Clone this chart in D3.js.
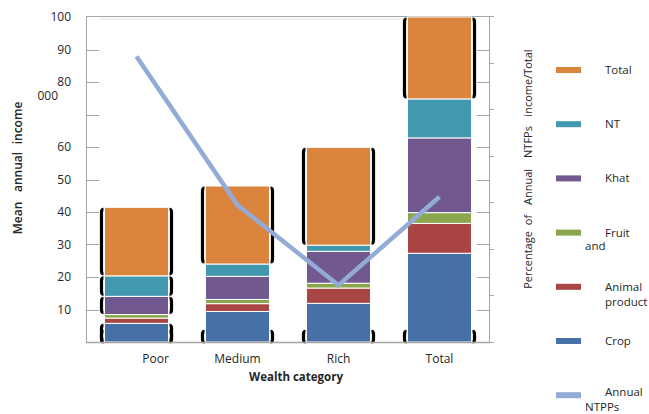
<!DOCTYPE html>
<html>
<head>
<meta charset="utf-8">
<script src="https://d3js.org/d3.v7.min.js"></script>
<style>
  body { margin: 0; background: #fff; }
  text { font-family: "Open Sans", sans-serif; fill: #262626; }
</style>
</head>
<body>
<script>
var width = 649,
    height = 414;

// data
var categories = ["Poor", "Medium", "Rich", "Total"];
var series = ["Crop", "Animal product", "Fruit", "Khat", "NT", "Total"];
var crop   = [5.75, 9.4, 11.9, 27.3];
var animal = [1.6, 2.4, 4.7, 9.2];
var fruit  = [1.1, 1.3, 1.5, 3.3];
var khat   = [5.6, 7.1, 9.8, 23.0];
var nt     = [6.3, 3.8, 1.9, 12.0];
var total  = [21.1, 24.0, 30.1, 25.2];
var ntfpShare = [61.3, 29.4, 12.2, 31.2];   // right axis, %
var leftTicks = [10, 20, 30, 40, 50, 60, 70, 80, 90, 100];
var leftLabels = ["10", "20", "30", "40", "50", "60", "", "80", "90", "100"];
var rightTicks = [0, 10, 20, 30, 40, 50, 60, 70];
// which stack pieces carry the black bracket marks
var bracketed = [["Total", "NT", "Khat", "Crop"], ["Total"], ["Total"], ["Total"]];

var colors = {
    "Crop": "#4571a7",
    "Animal product": "#a94543",
    "Fruit": "#8aa74e",
    "Khat": "#71588f",
    "NT": "#4198af",
    "Total": "#db843d"
};
var lineColor = "#93abd7";

var rows = categories.map(function (c, i) {
    return { cat: c, "Crop": crop[i], "Animal product": animal[i], "Fruit": fruit[i],
             "Khat": khat[i], "NT": nt[i], "Total": total[i], share: ntfpShare[i] };
});

var svg = d3.select("body").append("svg")
    .attr("width", width)
    .attr("height", height);

var x = d3.scaleBand().domain(categories).range([86, 490]).paddingInner(0.366).paddingOuter(0.183);
var y = d3.scaleLinear().domain([0, 100]).range([342, 17]);
var yR = d3.scaleLinear().domain([0, 70]).range([342, 16]);

var stack = d3.stack().keys(series)(rows);

// frame
svg.append("line").attr("x1", 86).attr("x2", 489).attr("y1", 16.5).attr("y2", 16.5)
    .attr("stroke", "#a6a6a6");
svg.append("line").attr("x1", 99).attr("x2", 477).attr("y1", 19).attr("y2", 19)
    .attr("stroke", "#ececec").attr("stroke-width", 1.5);
svg.append("line").attr("x1", 86.5).attr("x2", 86.5).attr("y1", 16).attr("y2", 342)
    .attr("stroke", "#a6a6a6");
svg.append("line").attr("x1", 489.5).attr("x2", 489.5).attr("y1", 16).attr("y2", 342)
    .attr("stroke", "#a6a6a6");

// left axis ticks (inside)
svg.selectAll(".ltick").data(leftTicks.slice(0, 9)).enter().append("line")
    .attr("x1", 86).attr("x2", 99)
    .attr("y1", function (d) { return Math.round(y(d)) + 0.5; })
    .attr("y2", function (d) { return Math.round(y(d)) + 0.5; })
    .attr("stroke", "#a6a6a6");
svg.selectAll(".rtickIn").data(leftTicks.slice(0, 9)).enter().append("line")
    .attr("x1", 477).attr("x2", 489)
    .attr("y1", function (d) { return Math.round(y(d)) + 0.5; })
    .attr("y2", function (d) { return Math.round(y(d)) + 0.5; })
    .attr("stroke", "#a6a6a6");
svg.selectAll(".rtickOut").data(rightTicks).enter().append("line")
    .attr("x1", 489).attr("x2", 494)
    .attr("y1", function (d) { return Math.round(yR(d)) + 0.5; })
    .attr("y2", function (d) { return Math.round(yR(d)) + 0.5; })
    .attr("stroke", "#a6a6a6");

svg.selectAll(".llab").data(leftTicks).enter().append("text")
    .attr("x", 71).attr("y", function (d) { return y(d); })
    .attr("dy", "0.35em").attr("text-anchor", "end")
    .style("font-size", "12px")
    .text(function (d, i) { return leftLabels[i]; });
svg.append("text").attr("x", 58).attr("y", 96).attr("dy", "0.35em")
    .attr("text-anchor", "end").style("font-size", "12px").text("000");

// bars
svg.append("g").selectAll("g").data(stack).enter().append("g")
    .attr("fill", function (d) { return colors[d.key]; })
    .selectAll("rect").data(function (d) { return d; }).enter().append("rect")
    .attr("x", function (d) { return x(d.data.cat); })
    .attr("width", x.bandwidth())
    .attr("y", function (d) { return y(d[1]); })
    .attr("height", function (d) { return y(d[0]) - y(d[1]); })
    .attr("stroke", "#fff").attr("stroke-width", 1);

// bracket marks beside the bars
var brackets = [];
categories.forEach(function (c, i) {
    bracketed[i].forEach(function (k) {
        var s = stack[series.indexOf(k)][i];
        brackets.push({ cat: c, y0: y(s[0]) - 2, y1: y(s[1]) + 2 });
    });
    brackets.push({ cat: c, y0: y(0), y1: y(3.3) });
});
function bracketPath(d, side) {
    var bx = side < 0 ? x(d.cat) - 3 : x(d.cat) + x.bandwidth() + 3;
    var h = side < 0 ? 2 : -2;
    return "M" + (bx + h) + "," + d.y1 + " Q" + bx + "," + d.y1 + " " + bx + "," + (d.y1 + 3) +
        " L" + bx + "," + (d.y0 - 3) + " Q" + bx + "," + d.y0 + " " + (bx + h) + "," + d.y0;
}
[-1, 1].forEach(function (side) {
    svg.append("g").selectAll("path").data(brackets).enter().append("path")
        .attr("d", function (d) { return bracketPath(d, side); })
        .attr("fill", "none").attr("stroke", "#000").attr("stroke-width", 3.2);
});

svg.append("line").attr("x1", 86).attr("x2", 490).attr("y1", 342.5).attr("y2", 342.5)
    .attr("stroke", "#a6a6a6").attr("stroke-width", 1.5);

// line on right axis
var line = d3.line()
    .x(function (d) { return x(d.cat) + x.bandwidth() / 2; })
    .y(function (d) { return yR(d.share); });
svg.append("path").datum(rows).attr("d", line)
    .attr("fill", "none").attr("stroke", lineColor).attr("stroke-width", 4.5);

// x labels
svg.selectAll(".xlab").data(categories).enter().append("text")
    .attr("x", function (d, i) { return x(d) + x.bandwidth() / 2 + (i === 0 ? 19 : 0); })
    .attr("y", 359).attr("dy", "0.35em").attr("text-anchor", "middle")
    .style("font-size", "12px").text(function (d) { return d; });
svg.append("text").attr("x", 296).attr("y", 377).attr("dy", "0.35em")
    .attr("text-anchor", "middle").style("font-size", "11.5px").style("font-weight", "bold")
    .text("Wealth category");

// axis titles, words spread out like the original
var leftTitle = [["Mean", 218], ["annual", 172], ["income", 123]];
leftTitle.forEach(function (w) {
    svg.append("text").attr("transform", "translate(18," + w[1] + ") rotate(-90)")
        .attr("dy", "0.35em").attr("text-anchor", "middle")
        .style("font-size", "12px").style("font-weight", "600").text(w[0]);
});
var rightTitle = [["Percentage", 260], ["of", 220], ["Annual", 187], ["NTFPs", 142], ["income/Total", 83]];
rightTitle.forEach(function (w) {
    svg.append("text").attr("transform", "translate(528," + w[1] + ") rotate(-90)")
        .attr("dy", "0.35em").attr("text-anchor", "middle")
        .style("font-size", "11px").text(w[0]);
});

// legend
var legendItems = [
    { key: "Total", lines: ["Total"] },
    { key: "NT", lines: ["NT"] },
    { key: "Khat", lines: ["Khat"] },
    { key: "Fruit", lines: ["Fruit", "and"] },
    { key: "Animal product", lines: ["Animal", "product"] },
    { key: "Crop", lines: ["Crop"] },
    { key: "line", lines: ["Annual", "NTPPs"] }
];
var lg = svg.append("g").selectAll("g").data(legendItems).enter().append("g")
    .attr("transform", function (d, i) { return "translate(556," + (70 + i * 54.2) + ")"; });
lg.append("rect").attr("x", 0).attr("y", -3).attr("width", 25).attr("height", 6)
    .attr("fill", function (d) { return d.key === "line" ? lineColor : colors[d.key]; });
lg.append("text").attr("x", 49).attr("y", function (d) { return d.key === "line" ? -3 : 0; })
    .attr("dy", "0.35em")
    .style("font-size", "11.5px").text(function (d) { return d.lines[0]; });
lg.filter(function (d) { return d.lines.length > 1; }).append("text")
    .attr("x", function (d) { return d.key === "Animal product" ? 49 : 29; })
    .attr("y", function (d) { return d.key === "Fruit" ? 13 : d.key === "line" ? 11.5 : 15; })
    .attr("dy", "0.35em")
    .style("font-size", "11.5px").text(function (d) { return d.lines[1]; });
</script>
</body>
</html>
